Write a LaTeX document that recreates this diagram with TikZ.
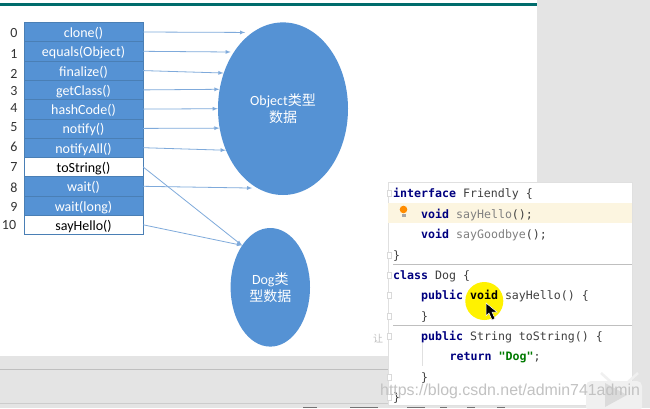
\documentclass[tikz,border=0pt]{standalone}
\usepackage{fontspec}
\setmainfont{Carlito}
\newfontfamily\cjkfont{Noto Sans CJK SC}
\newfontfamily\codefont{DejaVu Sans Mono}
\newfontfamily\markfont{Liberation Sans}
\usetikzlibrary{shapes.geometric, arrows}
\definecolor{boxblue}{HTML}{5592D4}
\definecolor{boxline}{HTML}{4A7FB5}
\definecolor{arrowblue}{HTML}{7FAADB}
\definecolor{panelgrey}{HTML}{E4E4E4}
\definecolor{kwblue}{HTML}{000080}
\definecolor{strgreen}{HTML}{007A00}
\definecolor{linemark}{HTML}{FCF5E0}
\newcommand{\kw}[1]{{\bfseries #1}}
\newcommand{\dimname}[1]{{\color{gray}#1}}
\tikzset{
    slot/.style={draw=boxline, fill=boxblue, text=white, minimum width=119pt, minimum height=19.27pt, inner sep=0pt, text height=11pt, text depth=0pt, font=\fontsize{14}{16}\selectfont},
    freeslot/.style={slot, fill=white, text=black},
    index/.style={font=\fontsize{14}{16}\selectfont, text=black!80},
    data/.style={ellipse, fill=boxblue, text=white, inner sep=0pt, align=center, font=\fontsize{14}{17}\selectfont},
    code/.style={anchor=base west, inner sep=0pt, text=black!75, font=\codefont\fontsize{11.6}{13}\selectfont},
    call/.style={->, >=latex, arrowblue, line width=0.8pt},
    fold/.style={draw=black!15, fill=white, line width=0.4pt},
}
\begin{document}
\begin{tikzpicture}[x=1pt, y=-1pt]
    \useasboundingbox (0,0) rectangle (650,408);
    % window
    \fill[white] (0,0) rectangle (650,408);
    \fill[panelgrey] (537,0) rectangle (650,408);
    \fill[panelgrey] (0,356) rectangle (650,408);
    \fill[teal!85!black] (0,3.3) rectangle (537,6);
    \draw[black!25] (0,369.5) -- (537,369.5);
    \draw[black!20] (0,403.5) -- (388,403.5);
    \draw[black!55, line width=1pt] (303,407.5) -- (317,407.5) (350,407.5) -- (378,407.5) (407,407.5) -- (425,407.5) (440,407.5) -- (447,407.5) (467,407.5) -- (475,407.5) (497,407.5) -- (505,407.5);

    % method table
    \node[slot] (clone) at (83.5,32) {clone()};
    \node[slot] (equals) at (83.5,51.3) {equals(Object)};
    \node[slot] (finalize) at (83.5,70.6) {finalize()};
    \node[slot] (getclass) at (83.5,89.9) {getClass()};
    \node[slot] (hashcode) at (83.5,109.1) {hashCode()};
    \node[slot] (notify) at (83.5,128.4) {notify()};
    \node[slot] (notifyall) at (83.5,147.7) {notifyAll()};
    \node[freeslot] (tostring) at (83.5,167) {toString()};
    \node[slot] (wait) at (83.5,186.3) {wait()};
    \node[slot] (waitlong) at (83.5,205.5) {wait(long)};
    \node[freeslot] (sayhello) at (83.5,224.8) {sayHello()};

    \node[index] (i0) at (14,33.5) {0};
    \node[index] (i1) at (14,53.5) {1};
    \node[index] (i2) at (14,73.5) {2};
    \node[index] (i3) at (14,91) {3};
    \node[index] (i4) at (14,108) {4};
    \node[index] (i5) at (14,127) {5};
    \node[index] (i6) at (14,147) {6};
    \node[index] (i7) at (14,167.5) {7};
    \node[index] (i8) at (14,188) {8};
    \node[index] (i9) at (14,207) {9};
    \node[index] (i10) at (9,225) {10};

    % type data
    \node[data, minimum width=130pt, minimum height=172.6pt] (objdata) at (283,108.7) {Object{\cjkfont 类型}\\{\cjkfont 数据}};
    \node[data, minimum width=79.4pt, minimum height=118.6pt] (dogdata) at (270.3,287.3) {Dog{\cjkfont 类}\\{\cjkfont 型数据}};

    \path[call]
    (clone.east) edge [shorten >=7pt] (objdata.112.3)
    (equals.east) edge [shorten >=3pt] (objdata.131.7)
    (finalize.east) edge (objdata.149.4)
    (getclass.east) edge (objdata.163.1)
    (hashcode.east) edge (objdata.180)
    (notify.east) edge (objdata.197.8)
    (notifyall.east) edge (objdata.216.7)
    (wait.east) edge [shorten >=5pt] (objdata.252.1)
    (tostring.east) edge (dogdata.124.1)
    (sayhello.east) edge (dogdata.124.1)
    ;

    % popup
    \node[text=black!25, font=\cjkfont\fontsize{10}{12}\selectfont] (rang) at (378,339) {让};
    \fill[white] (388,182) rectangle (632,405);
    \draw[black!12] (388,182) rectangle (632,405);
    \fill[linemark] (388,203) rectangle (632,223.3);
    \draw[black!25] (393,263.7) -- (632,263.7);
    \draw[black!25] (393,324.7) -- (632,324.7);
    \draw[black!12] (422.5,343) -- (422.5,366);
    \fill[yellow] (484.3,301) circle (19);

    % gutter
    \draw[fold] (387,190) rectangle (391,196);
    \draw[fold] (387,252) rectangle (391,258);
    \draw[fold] (387,272) rectangle (391,278);
    \draw[fold] (387,292) rectangle (391,298);
    \draw[fold] (387,313) rectangle (391,319);
    \draw[fold] (387,333) rectangle (391,339);
    \draw[fold] (387,374) rectangle (391,380);
    \draw[fold] (387,394) rectangle (391,400);

    % bulb
    \fill[orange!90!yellow] (403.5,209.5) circle (3.8);
    \fill[black!35] (401.5,214) rectangle (405.5,216.5);

    \node[code] (line0) at (393,197) {\kw{\color{kwblue}interface} Friendly \{};
    \node[code] (line1) at (421,218) {\kw{\color{kwblue}void} \dimname{sayHello}();};
    \node[code] (line2) at (421,238) {\kw{\color{kwblue}void} \dimname{sayGoodbye}();};
    \node[code] (line3) at (393,259) {\}};
    \node[code] (line4) at (393,279) {\kw{\color{kwblue}class} Dog \{};
    \node[code] (line5) at (421,299.5) {\kw{\color{kwblue}public} \kw{\color{black}void} sayHello() \{};
    \node[code] (line6) at (421,320) {\}};
    \node[code] (line7) at (421,340) {\kw{\color{kwblue}public} String toString() \{};
    \node[code] (line8) at (449.5,360.5) {\kw{\color{kwblue}return} \kw{\color{strgreen}"Dog"};};
    \node[code] (line9) at (421,381) {\}};
    \node[code] (line10) at (393,401) {\}};

    % cursor
    \draw[white, fill=black, line width=0.5pt] (486,303) -- (486,316) -- (489,313) -- (492,320) -- (495,318.5) -- (492,312) -- (497,312) -- cycle;

    % watermark
    \draw[black!6, line width=2.5pt] (601,373) -- (611,382) (638,373) -- (628,382);
    \fill[black!6, rounded corners=5pt] (586,381) rectangle (642,412);
    \fill[black!14] (605,383) -- (627,395) -- (605,407) -- cycle;
    \node[anchor=base west, inner sep=0pt, text=black!24, font=\markfont\fontsize{15.9}{18}\selectfont] (mark) at (380,395) {https://blog.csdn.net/admin741admin};
\end{tikzpicture}
\end{document}
